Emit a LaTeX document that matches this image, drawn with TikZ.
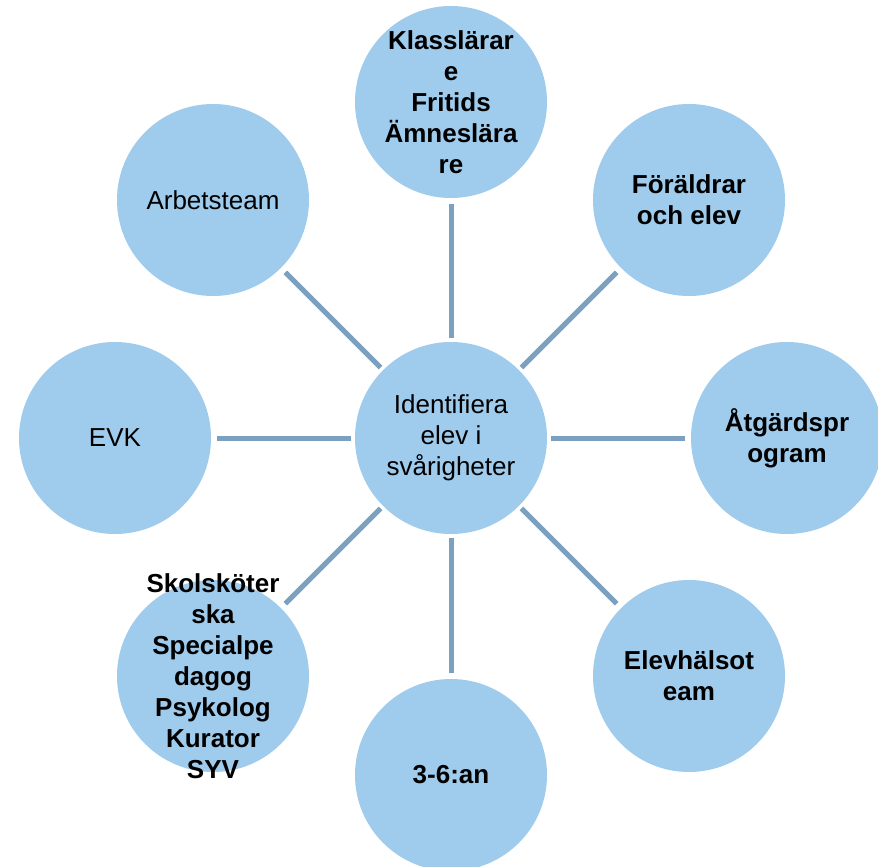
\documentclass[tikz,border=0pt]{standalone}
\usepackage{fontspec}
\setmainfont{Liberation Sans}
\usetikzlibrary{arrows}

\definecolor{bubble}{RGB}{159,203,236}
\definecolor{spoke}{RGB}{124,160,191}

\begin{document}
\begin{tikzpicture}[x=0.75pt,y=-0.75pt,
  main node/.style={circle,fill=bubble,minimum size=144pt,inner sep=-30pt,align=center,
    font=\fontsize{19.5}{23.25}\selectfont},
  bold node/.style={main node,font=\fontsize{19.5}{23.25}\selectfont\bfseries}]

  \useasboundingbox (0,0) rectangle (878,867);

  \node[main node] (hub) at (451,438) {Identifiera\\elev i\\svårigheter};
  \node[bold node] (klass) at (451,102) {Klasslärar\\e\\Fritids\\Ämneslära\\re};
  \node[bold node] (foralder) at (689,200) {Föräldrar\\och elev};
  \node[bold node] (atgard) at (787,438) {Åtgärdspr\\ogram};
  \node[bold node] (elevh) at (689,676) {Elevhälsot\\eam};
  \node[bold node] (tresex) at (451,775) {3-6:an};
  \node[bold node] (skol) at (213,676) {Skolsköter\\ska\\Specialpe\\dagog\\Psykolog\\Kurator\\SYV};
  \node[main node] (evk) at (115,438) {EVK};
  \node[main node] (arbete) at (213,200) {Arbetsteam};

  \path[draw=spoke,line width=3.75pt,shorten <=2.5pt,shorten >=4.5pt]
    (hub) edge node {} (klass)
    (hub) edge node {} (foralder)
    (hub) edge node {} (atgard)
    (hub) edge node {} (elevh)
    (hub) edge node {} (tresex)
    (hub) edge node {} (skol)
    (hub) edge node {} (evk)
    (hub) edge node {} (arbete) ;

\end{tikzpicture}
\end{document}
